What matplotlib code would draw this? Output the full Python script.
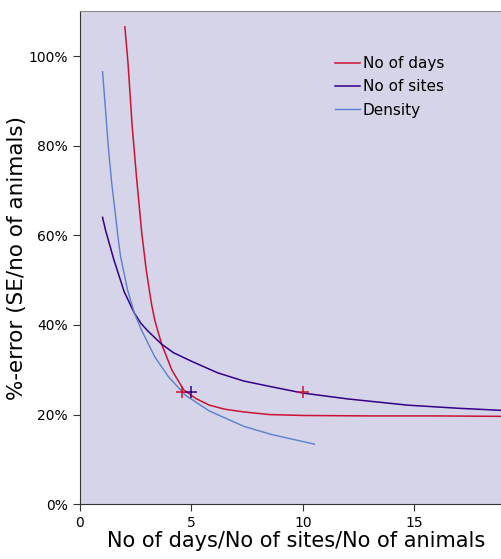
import numpy as np
import matplotlib.pyplot as plt
from matplotlib.ticker import PercentFormatter

# values (x, %-error as fraction)
days_x = [2.02, 2.16, 2.35, 2.54, 2.78, 2.98, 3.21, 3.36, 3.49, 3.67, 4.13, 4.66, 5.2, 5.81, 6.5, 7.34, 8.5, 10.0, 13.0, 16.0, 19.07]
days_y = [1.065, 0.985, 0.842, 0.731, 0.604, 0.522, 0.448, 0.411, 0.388, 0.357, 0.299, 0.255, 0.236, 0.221, 0.212, 0.206, 0.200, 0.198, 0.197, 0.197, 0.196]

sites_x = [1.02, 1.15, 1.28, 1.53, 1.99, 2.45, 2.75, 3.06, 3.67, 4.2, 5.05, 6.19, 7.34, 8.5, 10.0, 12.0, 14.7, 17.0, 19.07]
sites_y = [0.64, 0.612, 0.589, 0.545, 0.474, 0.426, 0.403, 0.386, 0.357, 0.338, 0.318, 0.293, 0.275, 0.263, 0.248, 0.235, 0.221, 0.214, 0.209]

dens_x = [1.02, 1.16, 1.28, 1.44, 1.59, 1.71, 1.83, 2.14, 2.45, 2.75, 3.36, 3.98, 4.74, 5.81, 7.34, 8.56, 10.52]
dens_y = [0.965, 0.875, 0.795, 0.712, 0.649, 0.597, 0.552, 0.478, 0.426, 0.39, 0.329, 0.284, 0.243, 0.208, 0.174, 0.156, 0.134]

# "+" markers at 25% error
mark_red_x = [4.6, 10.0]
mark_purple_x = [5.0]
mark_y = 0.25

red = "#cc1133"
purple = "#330088"
blue = "#5a7fcc"

fig = plt.figure(figsize=(5.02, 5.59), dpi=100)
ax = fig.add_axes([0.159, 0.098, 0.86, 0.882])
ax.set_facecolor("#d6d4e8")

ax.plot(days_x, days_y, color=red, lw=1.1, label="No of days")
ax.plot(sites_x, sites_y, color=purple, lw=1.1, label="No of sites")
ax.plot(dens_x, dens_y, color=blue, lw=1.0, label="Density")

ax.plot(mark_red_x, [mark_y] * len(mark_red_x), "+", color=red, ms=9, mew=1.1)
ax.plot(mark_purple_x, [mark_y] * len(mark_purple_x), "+", color=purple, ms=9, mew=1.1)

ax.set_xlim(0, 19.36)
ax.set_ylim(0, 1.1)
ax.set_xticks([0, 5, 10, 15])
ax.set_yticks(np.arange(0, 1.01, 0.2))
ax.yaxis.set_major_formatter(PercentFormatter(1.0, decimals=0))
ax.tick_params(labelsize=10, length=5, color="#333333", direction="out")

for s in ["left", "bottom"]:
    ax.spines[s].set_color("#333333")
ax.spines["top"].set_color("#888888")
ax.spines["right"].set_visible(False)

ax.set_xlabel("No of days/No of sites/No of animals", fontsize=15, labelpad=1)
ax.set_ylabel("%-error (SE/no of animals)", fontsize=15.5)
ax.yaxis.set_label_coords(-0.122, 0.5)

ax.legend(loc="upper left", bbox_to_anchor=(0.56, 0.937), frameon=False,
          fontsize=11, handlelength=1.6, handletextpad=0.2, labelspacing=0.55)

plt.savefig("out.png", dpi=100)
